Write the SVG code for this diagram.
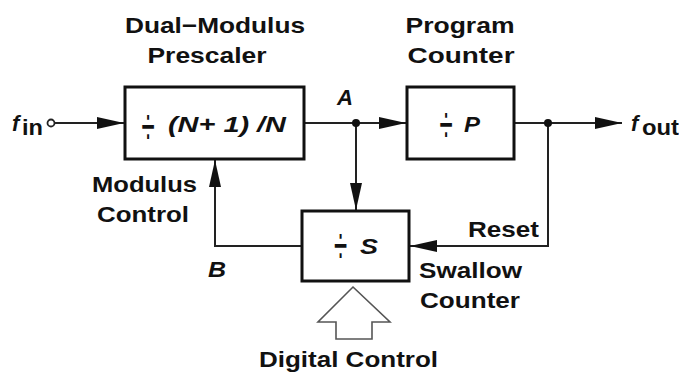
<svg xmlns="http://www.w3.org/2000/svg" width="679" height="373" viewBox="0 0 679 373">
<defs>
<style>
.t{font-family:"Liberation Sans",Arial,sans-serif;font-weight:bold;font-size:22px;fill:#111}
.i{font-style:italic}
.dv{font-family:"Liberation Sans",Arial,sans-serif;font-weight:normal;font-size:30px;fill:#111}
.box{fill:#fff;stroke:#111;stroke-width:3}
.ln{fill:none;stroke:#222;stroke-width:2}
</style>
<marker id="ah" viewBox="0 0 27 12" refX="27" refY="6" markerWidth="27" markerHeight="12" markerUnits="userSpaceOnUse" orient="auto">
<path d="M0,0 L27,6 L0,12 Z" fill="#111"/>
</marker>
</defs>
<rect width="679" height="373" fill="#fff"/>

<g id="connectors">
<circle cx="51" cy="123" r="3.5" fill="#fff" stroke="#222" stroke-width="1.8"/>
<line class="ln" x1="55" y1="123" x2="124" y2="123" marker-end="url(#ah)"/>
<line class="ln" x1="305" y1="123" x2="406" y2="123" marker-end="url(#ah)"/>
<line class="ln" x1="356" y1="123" x2="356" y2="210" marker-end="url(#ah)"/>
<line class="ln" x1="515" y1="123" x2="622" y2="123" marker-end="url(#ah)"/>
<polyline class="ln" points="548,123 548,246 410,246" marker-end="url(#ah)"/>
<polyline class="ln" points="301,246 215,246 215,160" marker-end="url(#ah)"/>
<circle cx="356" cy="123" r="4" fill="#111"/>
<circle cx="548" cy="123" r="4" fill="#111"/>
<polygon points="353,287 390,322 372,322 372,339 336,339 336,322 318,322" fill="#fff" stroke="#555" stroke-width="1.6"/>
</g>

<g id="prescaler">
<rect class="box" x="125" y="87" width="179" height="72"/>
<text class="dv" transform="translate(141.5,145) scale(0.8,1.8)">÷</text>
<text class="t i" x="168" y="132" textLength="118" lengthAdjust="spacingAndGlyphs">(N+ 1) /N</text>
<text class="t" x="215" y="33" text-anchor="middle" textLength="180" lengthAdjust="spacingAndGlyphs">Dual−Modulus</text>
<text class="t" x="207" y="63" text-anchor="middle" textLength="119" lengthAdjust="spacingAndGlyphs">Prescaler</text>
</g>

<g id="program-counter">
<rect class="box" x="407" y="87" width="107" height="72"/>
<text class="dv" transform="translate(439.5,143) scale(0.8,1.8)">÷</text>
<text class="t i" x="464" y="132" textLength="16" lengthAdjust="spacingAndGlyphs">P</text>
<text class="t" x="460" y="33" text-anchor="middle" textLength="109" lengthAdjust="spacingAndGlyphs">Program</text>
<text class="t" x="461" y="63" text-anchor="middle" textLength="107" lengthAdjust="spacingAndGlyphs">Counter</text>
</g>

<g id="swallow-counter">
<rect class="box" x="302" y="211" width="107" height="70"/>
<text class="dv" transform="translate(334,263.5) scale(0.8,1.8)">÷</text>
<text class="t i" x="360" y="254" textLength="18" lengthAdjust="spacingAndGlyphs">S</text>
<text class="t" x="419" y="278" textLength="103" lengthAdjust="spacingAndGlyphs">Swallow</text>
<text class="t" x="420" y="308" textLength="100" lengthAdjust="spacingAndGlyphs">Counter</text>
</g>

<g id="labels">
<text class="t i" x="12" y="131" font-size="24">f</text>
<text class="t" x="22" y="135" textLength="21" lengthAdjust="spacingAndGlyphs">in</text>
<text class="t i" x="631" y="131" font-size="24">f</text>
<text class="t" x="642" y="135" textLength="37" lengthAdjust="spacingAndGlyphs">out</text>
<text class="t i" x="337" y="105" textLength="16" lengthAdjust="spacingAndGlyphs">A</text>
<text class="t i" x="208" y="277" textLength="18" lengthAdjust="spacingAndGlyphs">B</text>
<text class="t" x="92" y="192" textLength="105" lengthAdjust="spacingAndGlyphs">Modulus</text>
<text class="t" x="97" y="222" textLength="92" lengthAdjust="spacingAndGlyphs">Control</text>
<text class="t" x="468" y="237" textLength="71" lengthAdjust="spacingAndGlyphs">Reset</text>
<text class="t" x="259" y="367" textLength="179" lengthAdjust="spacingAndGlyphs">Digital Control</text>
</g>
</svg>
